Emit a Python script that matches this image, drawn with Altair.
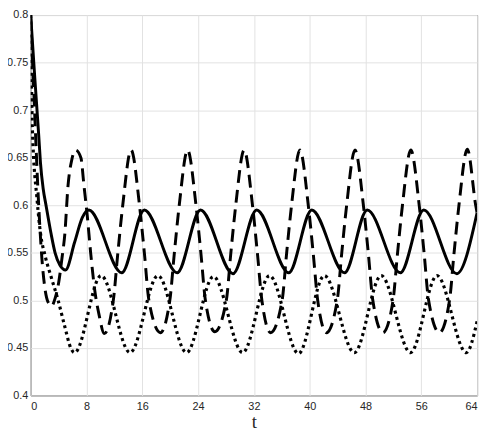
import altair as alt
import pandas as pd

# ---- data ----
solid_t = [0, 0.6, 1.16, 1.4, 1.8, 2.2, 2.9, 3.5, 4.2, 5.0, 6.3, 7.4, 8.35,
           13.05, 16.3, 21.0, 24.35, 29.0, 32.4, 37.0, 40.3, 45.0, 48.25,
           53.0, 56.35, 61.1, 64.0]
solid_v = [0.8, 0.733, 0.673, 0.645, 0.617, 0.600, 0.571, 0.550, 0.537, 0.532, 0.561, 0.587, 0.595,
           0.529, 0.595, 0.529, 0.595, 0.528, 0.595, 0.529, 0.595, 0.529, 0.595,
           0.529, 0.595, 0.528, 0.592]

dashed_t = [0, 0.5, 1.15, 1.6, 2.0, 2.5, 3.0, 3.5, 4.0, 4.5, 4.9, 5.35, 5.9, 6.45,
            7.2, 7.65, 8.1, 8.6, 9.2, 9.8, 10.55,
            11.85, 12.5, 13.2, 14.4, 15.6, 16.3, 16.95, 18.6,
            19.95, 20.6, 21.3, 22.5, 23.7, 24.4, 25.05, 26.4,
            28.05, 28.7, 29.4, 30.6, 31.8, 32.5, 33.15, 34.4,
            36.05, 36.7, 37.4, 38.6, 39.8, 40.5, 41.15, 42.4,
            43.95, 44.6, 45.3, 46.5, 47.7, 48.4, 49.05, 50.5,
            51.95, 52.6, 53.3, 54.5, 55.7, 56.4, 57.05, 58.6,
            60.05, 60.7, 61.4, 62.6, 63.8, 64.0]
dashed_v = [0.8, 0.71, 0.600, 0.545, 0.515, 0.498, 0.494, 0.502, 0.518, 0.545, 0.570, 0.620, 0.648, 0.658,
            0.650, 0.620, 0.590, 0.550, 0.510, 0.485, 0.465,
            0.500, 0.550, 0.600, 0.658, 0.600, 0.550, 0.500, 0.466,
            0.500, 0.550, 0.600, 0.658, 0.600, 0.550, 0.500, 0.467,
            0.500, 0.550, 0.600, 0.658, 0.600, 0.550, 0.500, 0.466,
            0.500, 0.550, 0.600, 0.658, 0.600, 0.550, 0.500, 0.466,
            0.500, 0.550, 0.600, 0.658, 0.600, 0.550, 0.500, 0.466,
            0.500, 0.550, 0.600, 0.658, 0.600, 0.550, 0.500, 0.466,
            0.500, 0.550, 0.600, 0.659, 0.600, 0.592]

dotted_t = [0, 0.25, 0.93, 1.4, 2.1, 3.0, 3.94, 4.87, 5.8, 6.3,
            10.1, 14.25, 18.25, 22.35, 26.2, 30.4, 34.25, 38.4, 42.1, 46.4,
            50.25, 54.45, 58.25, 62.45, 64.0]
dotted_v = [0.8, 0.68, 0.605, 0.571, 0.546, 0.523, 0.500, 0.473, 0.449, 0.445,
            0.526, 0.445, 0.526, 0.445, 0.525, 0.445, 0.526, 0.444, 0.526, 0.445,
            0.526, 0.445, 0.526, 0.445, 0.478]

x_ticks = [0, 8, 16, 24, 32, 40, 48, 56, 64]
y_ticks = [0.4, 0.45, 0.5, 0.55, 0.6, 0.65, 0.7, 0.75, 0.8]

solid_df = pd.DataFrame({"t": solid_t, "v": solid_v})
dashed_df = pd.DataFrame({"t": dashed_t, "v": dashed_v})
dotted_df = pd.DataFrame({"t": dotted_t, "v": dotted_v})

xs = alt.Scale(domain=[0, 64], nice=False, zero=False)
ys = alt.Scale(domain=[0.4, 0.8], nice=False, zero=False)

x_axis = alt.Axis(values=x_ticks, format="d", title="t", grid=True)
y_axis = alt.Axis(values=y_ticks, format="~g", title=None, grid=True)


def line(df, **mark):
    return alt.Chart(df).mark_line(color="black", interpolate="monotone", clip=True, **mark).encode(
        x=alt.X("t:Q", scale=xs, axis=x_axis),
        y=alt.Y("v:Q", scale=ys, axis=y_axis),
        order="t:Q",
    )


chart = alt.layer(
    line(dotted_df, strokeWidth=3.2, strokeDash=[3, 3.5], strokeCap="butt"),
    line(dashed_df, strokeWidth=3, strokeDash=[13, 7], strokeCap="butt"),
    line(solid_df, strokeWidth=3),
).properties(
    width=453,
    height=386,
    padding={"left": 23, "top": 4, "right": 6, "bottom": 36},
    autosize=alt.AutoSizeParams(type="none"),
).configure_view(
    stroke="#262626", strokeWidth=1
).configure_axis(
    domain=False,
    ticks=False,
    gridColor="#e2e2e2",
    gridWidth=1,
    labelFont="Liberation Sans",
    labelFontSize=11,
    labelColor="#262626",
).configure_axisX(
    labelPadding=5,
    titleFont="Liberation Serif",
    titleFontSize=19,
    titleFontWeight="normal",
    titleColor="#262626",
    titlePadding=2,
).configure_axisY(
    labelPadding=3,
)

chart.save("out.html", embed_options={"renderer": "svg", "actions": False})
